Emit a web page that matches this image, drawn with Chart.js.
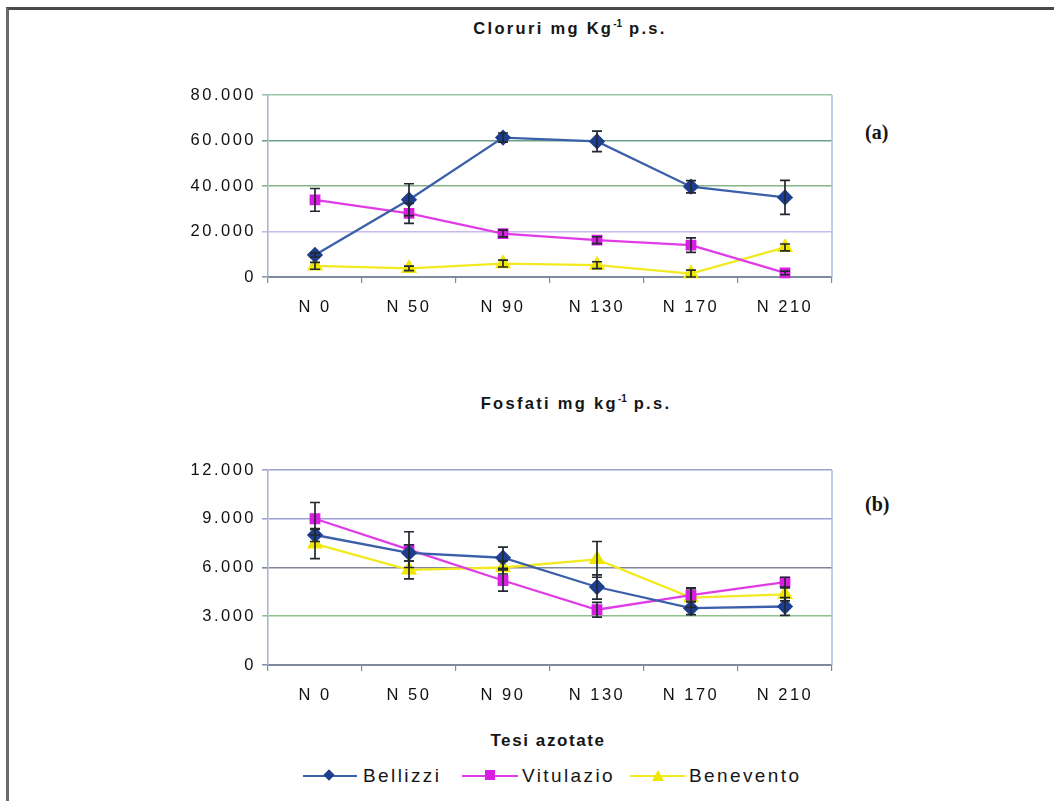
<!DOCTYPE html>
<html>
<head>
<meta charset="utf-8">
<script src="https://cdn.jsdelivr.net/npm/chart.js@4.4.1/dist/chart.umd.min.js"></script>
<style>
  html, body { margin: 0; padding: 0; background: #fff; }
  body { width: 1054px; height: 801px; position: relative; overflow: hidden;
         font-family: "Liberation Sans", Arial, sans-serif; color: #151515; }
  .frame { position: absolute; left: 6px; top: 7px; right: -4px; bottom: -4px;
           border-top: 3px solid #4a4a4a; border-left: 3px solid #6a6a6a; }
  .cv { position: absolute; left: 0; }
  .title { position: absolute; font-weight: bold; font-size: 16.5px; letter-spacing: 2.3px;
           white-space: nowrap; transform: translateX(-50%); }
  .title sup { font-size: 10px; letter-spacing: 0; }
  .tag { position: absolute; font-family: "Liberation Serif", "Times New Roman", serif;
         font-weight: bold; font-size: 20px; }
  .xtitle { position: absolute; left: 548px; top: 731px; transform: translateX(-50%);
            font-weight: bold; font-size: 17px; letter-spacing: 1.6px; white-space: nowrap; }
  .legend { position: absolute; top: 764px; left: 0; height: 24px; }
  .item { position: absolute; top: 0; height: 24px; }
  .item .ln { position: absolute; top: 11px; left: 0; height: 2px; }
  .item .mk { position: absolute; }
  .item .tx { position: absolute; top: 0; font-size: 19px; letter-spacing: 2.4px; white-space: nowrap; line-height: 24px; }
</style>
</head>
<body>
<div class="frame"></div>

<div class="title" style="left:570px; top:18px;">Cloruri mg Kg<sup>-1</sup> p.s.</div>
<div class="tag" style="left:865px; top:121px;">(a)</div>
<canvas id="cloruri" class="cv" width="1054" height="340" style="top:0; width:1054px; height:340px;"></canvas>

<div class="title" style="left:576px; top:393px;">Fosfati mg kg<sup>-1</sup> p.s.</div>
<div class="tag" style="left:865px; top:493px;">(b)</div>
<canvas id="fosfati" class="cv" width="1054" height="380" style="top:340px; width:1054px; height:380px;"></canvas>

<div class="xtitle">Tesi azotate</div>

<div class="legend">
  <div class="item" style="left:303px;">
    <div class="ln" style="width:54px; background:#3b5fa8;"></div>
    <div class="mk" style="left:22px; top:7px; width:8px; height:8px; background:#1d3f8e; transform:rotate(45deg);"></div>
    <div class="tx" style="left:60px;">Bellizzi</div>
  </div>
  <div class="item" style="left:462px;">
    <div class="ln" style="width:56px; background:#e03ce6;"></div>
    <div class="mk" style="left:23px; top:6px; width:10px; height:10px; background:#d81ee0;"></div>
    <div class="tx" style="left:60px;">Vitulazio</div>
  </div>
  <div class="item" style="left:630px;">
    <div class="ln" style="width:55px; background:#f2ea20;"></div>
    <div class="mk" style="left:22px; top:6px; width:0; height:0; border-left:6px solid transparent; border-right:6px solid transparent; border-bottom:11px solid #f0e600;"></div>
    <div class="tx" style="left:59px;">Benevento</div>
  </div>
</div>

<script>
// Nitrogen treatments
const categories = ['N 0', 'N 50', 'N 90', 'N 130', 'N 170', 'N 210'];
const seriesNames = ['Bellizzi', 'Vitulazio', 'Benevento'];

// Chlorides, mg Kg-1 dry weight
const clorBellizzi      = [9700, 34000, 61300, 59600, 39700, 35000];
const clorBellizziErr   = [900, 7000, 2000, 4500, 2700, 7500];
const clorVitulazio     = [33900, 28000, 19100, 16200, 14000, 1800];
const clorVitulazioErr  = [5000, 4400, 1500, 1500, 3200, 800];
const clorBenevento     = [4900, 3800, 5900, 5200, 1500, 13000];
const clorBeneventoErr  = [1500, 1000, 1500, 1500, 1500, 1500];
const clorTicks         = [0, 20000, 40000, 60000, 80000];

// Phosphates, mg kg-1 dry weight
const fosfBellizzi      = [8000, 6900, 6600, 4800, 3500, 3600];
const fosfBellizziErr   = [400, 500, 650, 750, 400, 550];
const fosfVitulazio     = [9000, 7100, 5200, 3400, 4300, 5100];
const fosfVitulazioErr  = [1000, 1100, 650, 450, 400, 300];
const fosfBenevento     = [7450, 5850, 6000, 6500, 4150, 4350];
const fosfBeneventoErr  = [900, 550, 400, 1100, 600, 400];
const fosfTicks         = [0, 3000, 6000, 9000, 12000];

const lineColors   = ['#3b5fa8', '#e03ce6', '#f2ea20'];
const markerColors = ['#1d3f8e', '#d81ee0', '#f0e600'];
const markerStyles = ['rectRot', 'rect', 'triangle'];
const markerSizes  = [6.5, 6, 7];

// Thousands separator with a dot: 80000 -> "80.000"
function fmt(v) {
  return String(Math.round(v)).replace(/\B(?=(\d{3})+(?!\d))/g, '.');
}

const LS = '2.5px';

// Wide tick lettering, chart-area right edge and the error bars
const chartExtras = {
  id: 'chartExtras',
  beforeLayout(chart) { chart.ctx.letterSpacing = LS; },
  beforeDraw(chart) { chart.ctx.letterSpacing = LS; },
  beforeDatasetsDraw(chart) {
    const { ctx, chartArea: a } = chart;
    ctx.save();
    ctx.strokeStyle = '#a9bde6';
    ctx.lineWidth = 1.5;
    ctx.beginPath();
    ctx.moveTo(a.right, a.top);
    ctx.lineTo(a.right, a.bottom);
    ctx.stroke();
    ctx.restore();
  },
  afterDatasetsDraw(chart) {
    const { ctx } = chart;
    const y = chart.scales.y;
    ctx.save();
    ctx.strokeStyle = '#222831';
    ctx.lineWidth = 1.7;
    chart.data.datasets.forEach((ds, i) => {
      const meta = chart.getDatasetMeta(i);
      meta.data.forEach((pt, j) => {
        const v = ds.data[j], e = ds.errors[j];
        const y1 = y.getPixelForValue(v + e), y2 = y.getPixelForValue(Math.max(0, v - e));
        const x = pt.x, c = 5;
        ctx.beginPath();
        ctx.moveTo(x, y1); ctx.lineTo(x, y2);
        ctx.moveTo(x - c, y1); ctx.lineTo(x + c, y1);
        ctx.moveTo(x - c, y2); ctx.lineTo(x + c, y2);
        ctx.stroke();
      });
    });
    ctx.restore();
  }
};

function makeChart(id, values, errors, ticks, gridColors, pad) {
  const datasets = values.map((vals, i) => ({
    label: seriesNames[i],
    data: vals,
    errors: errors[i],
    borderColor: lineColors[i],
    backgroundColor: markerColors[i],
    pointBackgroundColor: markerColors[i],
    pointBorderColor: markerColors[i],
    pointStyle: markerStyles[i],
    pointRadius: markerSizes[i],
    pointHoverRadius: markerSizes[i],
    borderWidth: 2.3,
    tension: 0,
    clip: false
  }));
  return new Chart(document.getElementById(id), {
    type: 'line',
    data: { labels: categories, datasets },
    plugins: [chartExtras],
    options: {
      responsive: false,
      animation: false,
      events: [],
      layout: { padding: { left: 0, right: 222, top: pad.top, bottom: 0 } },
      plugins: { legend: { display: false }, tooltip: { enabled: false }, title: { display: false } },
      scales: {
        x: {
          offset: true,
          afterFit(s) { s.height = pad.xh; },
          grid: { offset: true, drawOnChartArea: false, drawTicks: true, tickLength: 6, color: '#7d8aa0', lineWidth: 1.2 },
          border: { display: true, color: '#7d8aa0', width: 2 },
          ticks: {
            autoSkip: false, maxRotation: 0, minRotation: 0, padding: pad.xpad,
            color: '#111', font: { family: '"Liberation Sans", Arial, sans-serif', size: 16.5 }
          }
        },
        y: {
          min: ticks[0],
          max: ticks[ticks.length - 1],
          afterFit(s) { s.width = 268; },
          afterBuildTicks(s) { s.ticks = ticks.map(v => ({ value: v })); },
          grid: {
            drawTicks: true, tickLength: 6,
            color: (c) => gridColors[c.index] || '#8aa',
            lineWidth: 1.6
          },
          border: { display: true, color: '#a6b2c6', width: 1.5 },
          ticks: {
            padding: 6,
            color: '#111',
            font: { family: '"Liberation Sans", Arial, sans-serif', size: 16.5 },
            callback: (v) => fmt(v)
          }
        }
      }
    }
  });
}

makeChart('cloruri',
  [clorBellizzi, clorVitulazio, clorBenevento],
  [clorBellizziErr, clorVitulazioErr, clorBeneventoErr],
  clorTicks,
  ['#8a98a8', '#c8b8ec', '#86b486', '#6f9f86', '#98c8a8'],
  { top: 95, xh: 63, xpad: 15 });

makeChart('fosfati',
  [fosfBellizzi, fosfVitulazio, fosfBenevento],
  [fosfBellizziErr, fosfVitulazioErr, fosfBeneventoErr],
  fosfTicks,
  ['#8a8fb0', '#90c090', '#80869c', '#a0a0d8', '#9ea2cc'],
  { top: 130, xh: 55, xpad: 15 });
</script>
</body>
</html>
